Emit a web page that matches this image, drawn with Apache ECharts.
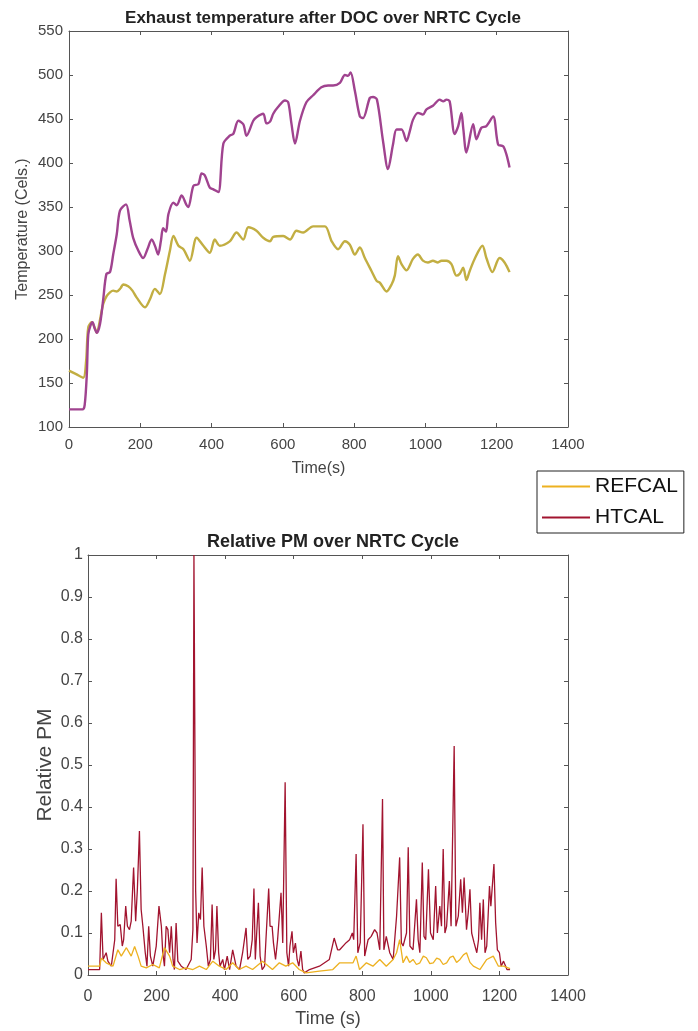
<!DOCTYPE html>
<html>
<head>
<meta charset="utf-8">
<script src="https://cdn.jsdelivr.net/npm/echarts@6/dist/echarts.min.js"></script>
<style>
  html, body { margin: 0; padding: 0; background: #fff; }
  #main { width: 698px; height: 1031px; }
</style>
</head>
<body>
<div id="main"></div>
<script>
// exhaust temperature after DOC (time s, temperature Cels.)
var tempRefTime = [0, 20, 40, 48, 54, 64, 72, 78, 87, 96, 106, 115, 124, 134, 145, 152, 166, 178, 190, 213, 227, 241, 255, 269, 283, 293, 307, 321, 339, 358, 377, 395, 409, 423, 451, 470, 489, 503, 526, 545, 564, 573, 601, 620, 638, 657, 685, 718, 737, 755, 774, 788, 802, 816, 830, 849, 863, 872, 891, 905, 914, 923, 933, 947, 965, 979, 993, 1007, 1021, 1035, 1045, 1059, 1073, 1087, 1096, 1106, 1115, 1124, 1138, 1160, 1171, 1188, 1208, 1222, 1236];
var tempRefVal = [164, 160, 156, 175, 213, 219, 213, 207, 222, 240, 249, 253, 255, 254, 258, 262, 260, 255, 247, 236, 245, 257, 251, 273, 300, 317, 306, 302, 289, 315, 306, 298, 313, 306, 311, 321, 313, 327, 323, 315, 311, 316, 317, 313, 323, 321, 328, 328, 311, 302, 311, 307, 296, 304, 292, 277, 266, 264, 254, 262, 272, 294, 285, 278, 291, 296, 289, 287, 289, 287, 289, 289, 285, 272, 274, 281, 267, 277, 291, 306, 292, 276, 292, 287, 276];

var tempHtTime = [0, 20, 38, 44, 50, 54, 60, 66, 72, 78, 87, 96, 105, 115, 124, 134, 143, 160, 170, 180, 195, 208, 220, 232, 242, 250, 258, 264, 272, 279, 293, 302, 316, 330, 335, 349, 363, 372, 381, 395, 405, 419, 433, 451, 461, 475, 489, 498, 517, 526, 545, 554, 564, 573, 587, 606, 615, 624, 634, 648, 666, 685, 708, 727, 741, 760, 774, 783, 790, 802, 816, 825, 844, 853, 864, 881, 895, 909, 919, 933, 947, 956, 965, 979, 993, 1003, 1021, 1040, 1050, 1059, 1068, 1082, 1092, 1101, 1106, 1115, 1134, 1143, 1157, 1171, 1190, 1204, 1218, 1227, 1236];
var tempHtVal = [120, 120, 120, 125, 160, 205, 215, 219, 212, 207, 217, 245, 274, 276, 296, 319, 346, 353, 335, 315, 300, 292, 302, 313, 305, 296, 312, 326, 322, 342, 355, 352, 363, 352, 350, 374, 376, 388, 386, 372, 370, 367, 422, 431, 433, 448, 444, 431, 448, 452, 456, 445, 447, 456, 464, 471, 469, 445, 422, 448, 469, 477, 486, 488, 488, 491, 500, 499, 503, 482, 453, 451, 474, 475, 472, 425, 393, 421, 438, 438, 425, 436, 449, 457, 455, 461, 465, 472, 470, 472, 470, 433, 442, 457, 440, 412, 444, 427, 440, 442, 453, 421, 419, 410, 395];

// relative PM (time s, relative PM)
var pmRefTime = [0, 34, 39, 53, 73, 87, 97, 112, 126, 136, 146, 155, 170, 189, 208, 223, 238, 247, 267, 286, 306, 325, 345, 364, 383, 403, 422, 441, 461, 480, 509, 538, 558, 577, 597, 616, 636, 675, 714, 734, 773, 782, 792, 812, 831, 851, 870, 890, 900, 909, 919, 929, 938, 948, 958, 968, 978, 987, 997, 1007, 1017, 1026, 1036, 1046, 1056, 1065, 1075, 1085, 1095, 1104, 1114, 1124, 1143, 1163, 1182, 1197, 1212, 1231];
var pmRefVal = [0.021, 0.021, 0.040, 0.029, 0.021, 0.060, 0.045, 0.065, 0.045, 0.068, 0.045, 0.021, 0.017, 0.025, 0.017, 0.065, 0.045, 0.021, 0.013, 0.017, 0.013, 0.021, 0.013, 0.033, 0.021, 0.013, 0.029, 0.013, 0.021, 0.013, 0.033, 0.013, 0.029, 0.021, 0.029, 0.013, 0.005, 0.009, 0.013, 0.029, 0.029, 0.045, 0.013, 0.029, 0.021, 0.037, 0.021, 0.037, 0.053, 0.084, 0.029, 0.045, 0.030, 0.037, 0.025, 0.029, 0.045, 0.041, 0.027, 0.029, 0.040, 0.037, 0.025, 0.029, 0.042, 0.045, 0.030, 0.037, 0.048, 0.053, 0.030, 0.021, 0.013, 0.037, 0.045, 0.021, 0.021, 0.015];

var pmHtTime = [0, 34, 39, 44, 53, 58, 68, 78, 82, 87, 94, 100, 104, 110, 115, 121, 126, 133, 139, 144, 150, 155, 160, 167, 172, 177, 182, 189, 199, 207, 214, 218, 223, 228, 233, 238, 243, 248, 252, 257, 262, 272, 286, 301, 306, 309, 314, 318, 323, 328, 333, 338, 345, 351, 357, 362, 367, 372, 376, 381, 385, 393, 398, 406, 413, 422, 432, 442, 451, 461, 466, 473, 479, 484, 488, 492, 497, 502, 508, 515, 519, 527, 531, 537, 541, 547, 553, 563, 568, 575, 580, 585, 589, 595, 599, 605, 610, 615, 621, 626, 631, 646, 675, 704, 718, 728, 734, 753, 763, 771, 775, 782, 787, 794, 802, 807, 817, 826, 836, 843, 851, 859, 863, 870, 880, 890, 900, 909, 914, 919, 929, 934, 939, 948, 958, 963, 968, 975, 980, 985, 993, 999, 1007, 1014, 1019, 1026, 1031, 1036, 1041, 1046, 1054, 1059, 1068, 1073, 1080, 1087, 1092, 1097, 1104, 1109, 1114, 1119, 1126, 1134, 1139, 1143, 1148, 1153, 1158, 1163, 1171, 1175, 1180, 1184, 1189, 1194, 1200, 1205, 1212, 1222, 1231];
var pmHtVal = [0.013, 0.013, 0.148, 0.037, 0.053, 0.033, 0.021, 0.084, 0.229, 0.116, 0.120, 0.069, 0.084, 0.164, 0.116, 0.108, 0.128, 0.256, 0.128, 0.204, 0.343, 0.156, 0.116, 0.053, 0.021, 0.116, 0.045, 0.021, 0.069, 0.164, 0.116, 0.053, 0.021, 0.116, 0.108, 0.053, 0.116, 0.037, 0.013, 0.124, 0.033, 0.021, 0.013, 0.037, 0.108, 1.0, 0.200, 0.076, 0.148, 0.132, 0.256, 0.116, 0.069, 0.021, 0.037, 0.168, 0.037, 0.060, 0.164, 0.053, 0.021, 0.037, 0.013, 0.045, 0.013, 0.060, 0.021, 0.013, 0.053, 0.112, 0.037, 0.045, 0.084, 0.206, 0.037, 0.100, 0.172, 0.045, 0.013, 0.021, 0.084, 0.206, 0.116, 0.116, 0.076, 0.037, 0.084, 0.196, 0.076, 0.459, 0.053, 0.021, 0.069, 0.104, 0.053, 0.076, 0.037, 0.021, 0.057, 0.013, 0.005, 0.013, 0.021, 0.037, 0.088, 0.060, 0.060, 0.077, 0.084, 0.100, 0.084, 0.288, 0.053, 0.077, 0.359, 0.045, 0.084, 0.092, 0.108, 0.100, 0.060, 0.419, 0.060, 0.092, 0.053, 0.037, 0.140, 0.280, 0.077, 0.069, 0.100, 0.304, 0.069, 0.060, 0.180, 0.084, 0.053, 0.268, 0.092, 0.084, 0.252, 0.100, 0.084, 0.212, 0.100, 0.164, 0.116, 0.300, 0.100, 0.116, 0.224, 0.116, 0.545, 0.116, 0.140, 0.228, 0.148, 0.232, 0.108, 0.148, 0.204, 0.100, 0.077, 0.053, 0.084, 0.172, 0.084, 0.180, 0.053, 0.069, 0.212, 0.164, 0.220, 0.264, 0.124, 0.060, 0.053, 0.021, 0.033, 0.013, 0.013];

var timeTicks = { min: 0, max: 1400, interval: 200 };
var tempTicks = { min: 100, max: 550, interval: 50 };
var pmTicks = { min: 0, max: 1, interval: 0.1 };

function pairs(xs, ys) {
    return xs.map(function (x, i) { return [x, ys[i]]; });
}

var font = 'Liberation Sans, Arial, sans-serif';
var axisColor = '#555';
var labelColor = '#444';
var plain = function (v) { return String(v); };

function axis(extra) {
    var base = {
        type: 'value',
        splitLine: { show: false },
        nameMoveOverlap: false,
        axisLine: { show: true, onZero: false, lineStyle: { color: axisColor, width: 1 } },
        axisTick: { show: true, inside: true, length: 4, lineStyle: { color: axisColor } },
        axisLabel: { show: true, color: labelColor, fontFamily: font },
        nameTextStyle: { color: labelColor, fontFamily: font }
    };
    return Object.assign(base, extra);
}

var myChart = echarts.init(document.getElementById('main'));

var option = {
    animation: false,
    backgroundColor: '#fff',
    title: [
        {
            text: 'Exhaust temperature after DOC over NRTC Cycle',
            left: 318, top: 5, textAlign: 'center',
            textStyle: { fontSize: 17, fontWeight: 'bold', color: '#222', fontFamily: font }
        },
        {
            text: 'Relative PM over NRTC Cycle',
            left: 328, top: 528, textAlign: 'center',
            textStyle: { fontSize: 18, fontWeight: 'bold', color: '#222', fontFamily: font }
        }
    ],
    legend: {
        data: ['REFCAL', 'HTCAL'],
        orient: 'vertical',
        left: 537, top: 471,
        padding: [4, 6, 4, 5],
        itemGap: 8,
        itemWidth: 48, itemHeight: 2,
        icon: 'rect',
        backgroundColor: '#fff',
        borderColor: '#222', borderWidth: 1, borderRadius: 0,
        textStyle: { fontSize: 21, lineHeight: 23, color: '#111', fontFamily: font }
    },
    grid: [
        { left: 69, top: 31, width: 499, height: 396 },
        { left: 88, top: 555, width: 480, height: 420 }
    ],
    xAxis: [
        axis(Object.assign({ gridIndex: 0, position: 'bottom', name: 'Time(s)', nameLocation: 'middle', nameGap: 34,
            axisLabel: { color: labelColor, fontFamily: font, fontSize: 15, margin: 10, formatter: plain },
            nameTextStyle: { color: labelColor, fontFamily: font, fontSize: 16 } }, timeTicks)),
        axis(Object.assign({ gridIndex: 0, position: 'top', axisLabel: { show: false } }, timeTicks)),
        axis(Object.assign({ gridIndex: 1, position: 'bottom', name: 'Time (s)', nameLocation: 'middle', nameGap: 35,
            axisLabel: { color: labelColor, fontFamily: font, fontSize: 16, margin: 14, formatter: plain },
            nameTextStyle: { color: labelColor, fontFamily: font, fontSize: 18 } }, timeTicks)),
        axis(Object.assign({ gridIndex: 1, position: 'top', axisLabel: { show: false } }, timeTicks))
    ],
    yAxis: [
        axis(Object.assign({ gridIndex: 0, position: 'left', name: 'Temperature (Cels.)', nameLocation: 'middle', nameGap: 38,
            axisLabel: { color: labelColor, fontFamily: font, fontSize: 15, margin: 6 },
            nameTextStyle: { color: labelColor, fontFamily: font, fontSize: 16 } }, tempTicks)),
        axis(Object.assign({ gridIndex: 0, position: 'right', axisLabel: { show: false } }, tempTicks)),
        axis(Object.assign({ gridIndex: 1, position: 'left', name: 'Relative PM', nameLocation: 'middle', nameGap: 32,
            axisLabel: { color: labelColor, fontFamily: font, fontSize: 16, margin: 5 },
            nameTextStyle: { color: labelColor, fontFamily: font, fontSize: 21 } }, pmTicks)),
        axis(Object.assign({ gridIndex: 1, position: 'right', axisLabel: { show: false } }, pmTicks))
    ],
    series: [
        {
            name: 'REFCAL', type: 'line', xAxisIndex: 2, yAxisIndex: 2, showSymbol: false, symbol: 'none',
            color: '#EDB120', lineStyle: { width: 1.3 }, z: 3,
            data: pairs(pmRefTime, pmRefVal)
        },
        {
            name: 'HTCAL', type: 'line', xAxisIndex: 2, yAxisIndex: 2, showSymbol: false, symbol: 'none',
            color: '#A2142F', lineStyle: { width: 1.3 }, z: 2,
            data: pairs(pmHtTime, pmHtVal)
        },
        {
            name: 'REFCAL temperature', type: 'line', xAxisIndex: 0, yAxisIndex: 0, showSymbol: false, symbol: 'none',
            color: '#c2ae42', lineStyle: { width: 2.4 }, smooth: 0.3,
            data: pairs(tempRefTime, tempRefVal)
        },
        {
            name: 'HTCAL temperature', type: 'line', xAxisIndex: 0, yAxisIndex: 0, showSymbol: false, symbol: 'none',
            color: '#a0438f', lineStyle: { width: 2.4 }, smooth: 0.3,
            data: pairs(tempHtTime, tempHtVal)
        }
    ]
};

myChart.setOption(option);
</script>
</body>
</html>
